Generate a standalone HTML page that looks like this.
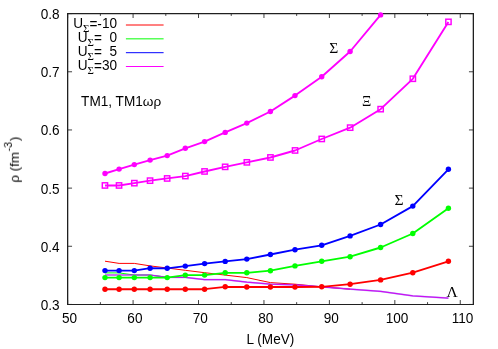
<!DOCTYPE html>
<html><head><meta charset="utf-8"><title>plot</title>
<style>html,body{margin:0;padding:0;background:#fff;}svg{display:block;}text{font-family:"Liberation Sans",sans-serif;fill:#000;}.sy{font-family:"Liberation Serif",serif;}</style></head><body>
<svg width="498" height="349" viewBox="0 0 498 349">
<rect x="0" y="0" width="498" height="349" fill="#fff"/>
<path d="M67.65,304.45v-4.4M67.65,13.6v4.4M100.37,304.45v-2.3M100.37,13.6v2.3M133.09,304.45v-4.4M133.09,13.6v4.4M165.80,304.45v-2.3M165.80,13.6v2.3M198.52,304.45v-4.4M198.52,13.6v4.4M231.24,304.45v-2.3M231.24,13.6v2.3M263.96,304.45v-4.4M263.96,13.6v4.4M296.67,304.45v-2.3M296.67,13.6v2.3M329.39,304.45v-4.4M329.39,13.6v4.4M362.11,304.45v-2.3M362.11,13.6v2.3M394.83,304.45v-4.4M394.83,13.6v4.4M427.55,304.45v-2.3M427.55,13.6v2.3M460.26,304.45v-4.4M460.26,13.6v4.4M67.65,304.45h4.4M473.35,304.45h-4.4M67.65,246.28h4.4M473.35,246.28h-4.4M67.65,188.11h4.4M473.35,188.11h-4.4M67.65,129.94h4.4M473.35,129.94h-4.4M67.65,71.77h4.4M473.35,71.77h-4.4M67.65,13.60h4.4M473.35,13.60h-4.4" stroke="#000" stroke-width="0.75" fill="none"/>
<g stroke="#202020" fill="none" stroke-linecap="square"><path d="M67.65,13.6V304.45" stroke-width="1.3"/><path d="M473.35,13.6V304.45" stroke-width="1.3"/><path d="M67.65,13.6H473.35" stroke-width="1.2"/><path d="M67.65,304.5H473.35" stroke-width="1.2"/></g>
<g fill="none" stroke-linejoin="round">
<polyline points="105.0,261.2 119.1,263.4 134.3,263.4 150.1,265.9 167.2,268.0 185.3,270.3 204.6,272.7 225.2,275.1 246.8,277.6 270.4,282.6 295.0,284.2 321.7,286.8 350.1,289.2" stroke="#ff0000" stroke-width="1"/>
<polyline points="105.0,272.9 119.1,272.9 134.3,275.0 150.1,275.0 167.2,277.3" stroke="#00ff00" stroke-width="1"/>
<polyline points="105.0,275.0 119.1,275.0 134.3,275.0 150.1,275.0 167.2,277.3 185.3,277.3 204.6,279.7 225.2,279.7 246.8,282.2 270.4,284.2 295.0,284.8 321.7,286.8 350.1,289.2 380.6,291.4 412.8,295.8 448.4,298.2" stroke="#4040ff" stroke-width="1.7" stroke-opacity="0.35"/>
<polyline points="105.0,275.0 119.1,275.0 134.3,275.0 150.1,275.0 167.2,277.3 185.3,277.3 204.6,279.7 225.2,279.7 246.8,282.2 270.4,284.2 295.0,284.8 321.7,286.8 350.1,289.2 380.6,291.4 412.8,295.8 448.4,298.2" stroke="#cc10f0" stroke-width="1.2"/>
</g>
<polyline points="105.0,289.2 119.1,289.2 134.3,289.2 150.1,289.2 167.2,289.2 185.3,289.2 204.6,289.2 225.2,286.8 246.8,287.0 270.4,287.0 295.0,287.0 321.7,286.8 350.1,284.2 380.6,279.9 412.8,272.7 448.4,261.3" fill="none" stroke="#ff0000" stroke-width="1.85" stroke-linejoin="round"/>
<g fill="#ff0000"><circle cx="105.0" cy="289.2" r="2.7"/><circle cx="119.1" cy="289.2" r="2.7"/><circle cx="134.3" cy="289.2" r="2.7"/><circle cx="150.1" cy="289.2" r="2.7"/><circle cx="167.2" cy="289.2" r="2.7"/><circle cx="185.3" cy="289.2" r="2.7"/><circle cx="204.6" cy="289.2" r="2.7"/><circle cx="225.2" cy="286.8" r="2.7"/><circle cx="246.8" cy="287.0" r="2.7"/><circle cx="270.4" cy="287.0" r="2.7"/><circle cx="295.0" cy="287.0" r="2.7"/><circle cx="321.7" cy="286.8" r="2.7"/><circle cx="350.1" cy="284.2" r="2.7"/><circle cx="380.6" cy="279.9" r="2.7"/><circle cx="412.8" cy="272.7" r="2.7"/><circle cx="448.4" cy="261.3" r="2.7"/></g>
<polyline points="105.0,277.6 119.1,277.6 134.3,277.6 150.1,277.6 167.2,277.6 185.3,275.1 204.6,275.1 225.2,272.8 246.8,272.8 270.4,270.7 295.0,265.9 321.7,261.3 350.1,256.7 380.6,247.5 412.8,233.5 448.4,208.3" fill="none" stroke="#00ff00" stroke-width="1.85" stroke-linejoin="round"/>
<g fill="#00ff00"><circle cx="105.0" cy="277.6" r="2.7"/><circle cx="119.1" cy="277.6" r="2.7"/><circle cx="134.3" cy="277.6" r="2.7"/><circle cx="150.1" cy="277.6" r="2.7"/><circle cx="167.2" cy="277.6" r="2.7"/><circle cx="185.3" cy="275.1" r="2.7"/><circle cx="204.6" cy="275.1" r="2.7"/><circle cx="225.2" cy="272.8" r="2.7"/><circle cx="246.8" cy="272.8" r="2.7"/><circle cx="270.4" cy="270.7" r="2.7"/><circle cx="295.0" cy="265.9" r="2.7"/><circle cx="321.7" cy="261.3" r="2.7"/><circle cx="350.1" cy="256.7" r="2.7"/><circle cx="380.6" cy="247.5" r="2.7"/><circle cx="412.8" cy="233.5" r="2.7"/><circle cx="448.4" cy="208.3" r="2.7"/></g>
<polyline points="105.0,270.6 119.1,270.6 134.3,270.6 150.1,268.2 167.2,268.3 185.3,266.1 204.6,263.6 225.2,261.4 246.8,259.1 270.4,254.5 295.0,249.7 321.7,245.3 350.1,235.9 380.6,224.5 412.8,206.1 448.4,169.3" fill="none" stroke="#0000ff" stroke-width="1.85" stroke-linejoin="round"/>
<g fill="#0000ff"><circle cx="105.0" cy="270.6" r="2.7"/><circle cx="119.1" cy="270.6" r="2.7"/><circle cx="134.3" cy="270.6" r="2.7"/><circle cx="150.1" cy="268.2" r="2.7"/><circle cx="167.2" cy="268.3" r="2.7"/><circle cx="185.3" cy="266.1" r="2.7"/><circle cx="204.6" cy="263.6" r="2.7"/><circle cx="225.2" cy="261.4" r="2.7"/><circle cx="246.8" cy="259.1" r="2.7"/><circle cx="270.4" cy="254.5" r="2.7"/><circle cx="295.0" cy="249.7" r="2.7"/><circle cx="321.7" cy="245.3" r="2.7"/><circle cx="350.1" cy="235.9" r="2.7"/><circle cx="380.6" cy="224.5" r="2.7"/><circle cx="412.8" cy="206.1" r="2.7"/><circle cx="448.4" cy="169.3" r="2.7"/></g>
<polyline points="105.0,173.5 119.1,169.1 134.3,164.6 150.1,160.1 167.2,155.6 185.3,148.3 204.6,141.6 225.2,132.4 246.8,123.1 270.4,111.5 295.0,95.6 321.7,76.8 350.1,51.5 380.6,14.9 381.8,13.5" fill="none" stroke="#ff00ff" stroke-width="1.85" stroke-linejoin="round"/>
<g fill="#ff00ff"><circle cx="105.0" cy="173.5" r="2.7"/><circle cx="119.1" cy="169.1" r="2.7"/><circle cx="134.3" cy="164.6" r="2.7"/><circle cx="150.1" cy="160.1" r="2.7"/><circle cx="167.2" cy="155.6" r="2.7"/><circle cx="185.3" cy="148.3" r="2.7"/><circle cx="204.6" cy="141.6" r="2.7"/><circle cx="225.2" cy="132.4" r="2.7"/><circle cx="246.8" cy="123.1" r="2.7"/><circle cx="270.4" cy="111.5" r="2.7"/><circle cx="295.0" cy="95.6" r="2.7"/><circle cx="321.7" cy="76.8" r="2.7"/><circle cx="350.1" cy="51.5" r="2.7"/><circle cx="380.6" cy="14.9" r="2.7"/></g>
<polyline points="105.0,185.5 119.1,185.5 134.3,183.2 150.1,180.7 167.2,178.4 185.3,176.1 204.6,171.5 225.2,166.9 246.8,162.3 270.4,157.5 295.0,150.5 321.7,139.0 350.1,127.7 380.6,109.2 412.8,78.8 448.4,21.9" fill="none" stroke="#ff00ff" stroke-width="1.85" stroke-linejoin="round"/>
<g fill="none" stroke="#ff00ff" stroke-width="1.45"><rect x="102.3" y="182.8" width="5.3" height="5.3"/><rect x="116.4" y="182.8" width="5.3" height="5.3"/><rect x="131.7" y="180.5" width="5.3" height="5.3"/><rect x="147.4" y="178.0" width="5.3" height="5.3"/><rect x="164.5" y="175.8" width="5.3" height="5.3"/><rect x="182.7" y="173.4" width="5.3" height="5.3"/><rect x="201.9" y="168.8" width="5.3" height="5.3"/><rect x="222.5" y="164.2" width="5.3" height="5.3"/><rect x="244.2" y="159.7" width="5.3" height="5.3"/><rect x="267.8" y="154.8" width="5.3" height="5.3"/><rect x="292.4" y="147.8" width="5.3" height="5.3"/><rect x="319.1" y="136.3" width="5.3" height="5.3"/><rect x="347.5" y="125.0" width="5.3" height="5.3"/><rect x="378.0" y="106.5" width="5.3" height="5.3"/><rect x="410.2" y="76.1" width="5.3" height="5.3"/><rect x="445.8" y="19.2" width="5.3" height="5.3"/></g>
<g id="labels" opacity="0.999">
<g transform="translate(59.6,309.8) scale(1,1.09)"><text font-size="13.6" text-anchor="end">0.3</text></g>
<g transform="translate(59.6,251.7) scale(1,1.09)"><text font-size="13.6" text-anchor="end">0.4</text></g>
<g transform="translate(59.6,193.5) scale(1,1.09)"><text font-size="13.6" text-anchor="end">0.5</text></g>
<g transform="translate(59.6,135.3) scale(1,1.09)"><text font-size="13.6" text-anchor="end">0.6</text></g>
<g transform="translate(59.6,77.2) scale(1,1.09)"><text font-size="13.6" text-anchor="end">0.7</text></g>
<g transform="translate(59.6,19.0) scale(1,1.09)"><text font-size="13.6" text-anchor="end">0.8</text></g>
<g transform="translate(69.5,323.4) scale(1,1.09)"><text font-size="13.6" text-anchor="middle">50</text></g>
<g transform="translate(134.9,323.4) scale(1,1.09)"><text font-size="13.6" text-anchor="middle">60</text></g>
<g transform="translate(200.3,323.4) scale(1,1.09)"><text font-size="13.6" text-anchor="middle">70</text></g>
<g transform="translate(265.8,323.4) scale(1,1.09)"><text font-size="13.6" text-anchor="middle">80</text></g>
<g transform="translate(331.2,323.4) scale(1,1.09)"><text font-size="13.6" text-anchor="middle">90</text></g>
<g transform="translate(397.0,323.4) scale(1,1.09)"><text font-size="13.6" text-anchor="middle">100</text></g>
<g transform="translate(462.5,323.4) scale(1,1.09)"><text font-size="13.6" text-anchor="middle">110</text></g>
<g transform="translate(270.4,343.9) scale(1,1.09)"><text font-size="13.6" text-anchor="middle">L (MeV)</text></g>
<g transform="translate(18.9,159.6) rotate(-90)"><text font-size="13.4" text-anchor="middle">ρ (fm<tspan font-size="10.7" dy="-7.4" dx="0.6">-3</tspan><tspan dy="7.4" dx="0.9">)</tspan></text></g>
<g transform="translate(81.1,105.6) scale(1,1.09)"><text font-size="13.6" text-anchor="start">TM1, TM1</text></g>
<g transform="translate(161.2,105.6) scale(1,1.0)"><text font-size="13.6" text-anchor="end">ωρ</text></g>
<g transform="translate(117,27.9) scale(1,1.04)"><text font-size="13.6" text-anchor="end">U<tspan class="sy" font-size="10.9" dy="4.1">Σ</tspan><tspan dy="-2.6">=-</tspan><tspan dy="-1.5">10</tspan></text></g>
<path d="M125.9,25.0H163.6" stroke="#ff0000" stroke-width="1" fill="none"/>
<g transform="translate(117,41.9) scale(1,1.04)"><text font-size="13.6" text-anchor="end">U<tspan class="sy" font-size="10.9" dy="4.1">Σ</tspan><tspan dy="-2.6">=</tspan><tspan dy="-1.5">  0</tspan></text></g>
<path d="M125.9,38.85H163.6" stroke="#00ff00" stroke-width="1" fill="none"/>
<g transform="translate(117,55.8) scale(1,1.04)"><text font-size="13.6" text-anchor="end">U<tspan class="sy" font-size="10.9" dy="4.1">Σ</tspan><tspan dy="-2.6">=</tspan><tspan dy="-1.5">  5</tspan></text></g>
<path d="M125.9,52.7H163.6" stroke="#0000ff" stroke-width="1" fill="none"/>
<g transform="translate(117,69.7) scale(1,1.04)"><text font-size="13.6" text-anchor="end">U<tspan class="sy" font-size="10.9" dy="4.1">Σ</tspan><tspan dy="-2.6">=</tspan><tspan dy="-1.5">30</tspan></text></g>
<path d="M125.9,66.5H163.6" stroke="#ff00ff" stroke-width="1" fill="none"/>
<g transform="translate(329.2,53.15) scale(1.1,1)"><text class="sy" font-size="14.1">Σ</text></g>
<g transform="translate(362.0,105.7) scale(1.02,1)"><text class="sy" font-size="14.1">Ξ</text></g>
<g transform="translate(394.4,204.6) scale(1.1,1)"><text class="sy" font-size="14.1">Σ</text></g>
<g transform="translate(446.6,297.35) scale(1.1,1)"><text class="sy" font-size="14.1">Λ</text></g>
</g>
</svg></body></html>
